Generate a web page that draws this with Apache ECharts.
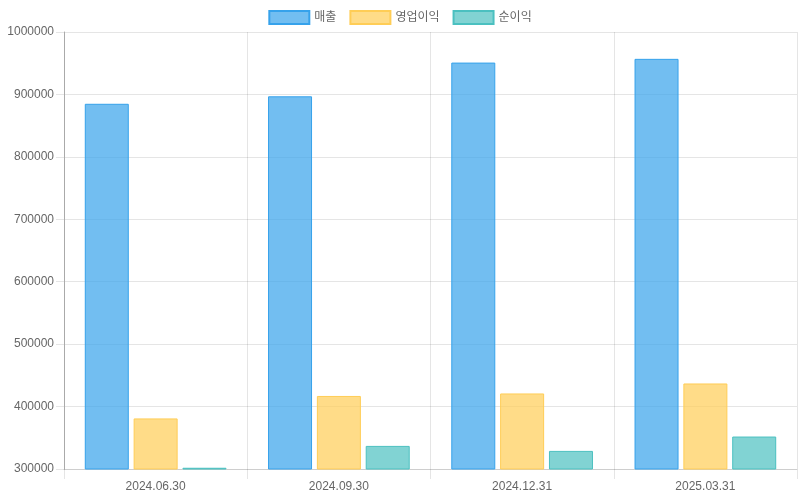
<!DOCTYPE html>
<html>
<head>
<meta charset="utf-8">
<script src="https://cdn.jsdelivr.net/npm/echarts@6/dist/echarts.min.js"></script>
<style>
  html, body { margin: 0; padding: 0; background: #fff; }
  #chart { width: 800px; height: 500px; }
</style>
</head>
<body>
<div id="chart"></div>
<script>
const categories = ['2024.06.30', '2024.09.30', '2024.12.31', '2025.03.31'];
const revenue = [885000, 897000, 951000, 957000];
const operatingProfit = [381000, 417000, 421000, 437000];
const netProfit = [302000, 337000, 329000, 352000];
const seriesNames = ['매출', '영업이익', '순이익'];

(function () {
  let myChart = echarts.init(document.getElementById('chart'));
  const font = '"Liberation Sans", "Noto Sans CJK KR", Arial, sans-serif';
  const gridColor = 'rgba(0,0,0,0.1)';

  function bar(name, data, rgb) {
    return {
      name: name,
      type: 'bar',
      data: data,
      barWidth: 44,
      barGap: '11%',
      itemStyle: {
        color: 'rgba(' + rgb + ',0.7)',
        borderColor: 'rgb(' + rgb + ')',
        borderWidth: 1
      }
    };
  }

  let option = {
    animation: false,
    textStyle: { fontFamily: font },
    legend: {
      top: 5,
      left: 'center',
      icon: 'rect',
      itemWidth: 40,
      itemHeight: 13,
      itemGap: 13,
      textStyle: { color: '#666', fontSize: 12, fontFamily: font },
      data: seriesNames
    },
    grid: { left: 64, right: 3, top: 32, bottom: 31, containLabel: false },
    xAxis: {
      type: 'category',
      data: categories,
      axisLine: { lineStyle: { color: gridColor } },
      axisTick: { show: true, length: 10, lineStyle: { color: gridColor } },
      splitLine: { show: true, lineStyle: { color: gridColor } },
      axisLabel: { color: '#666', fontSize: 12, margin: 12, fontFamily: font }
    },
    yAxis: {
      type: 'value',
      min: 300000,
      max: 1000000,
      interval: 100000,
      axisLine: { show: true, lineStyle: { color: '#aaa' } },
      axisTick: { show: true, length: 8, lineStyle: { color: gridColor } },
      splitLine: { lineStyle: { color: gridColor } },
      axisLabel: {
        color: '#666', fontSize: 12, margin: 10, fontFamily: font,
        formatter: function (v) { return String(v); }
      }
    },
    series: [
      bar(seriesNames[0], revenue, '54,162,235'),
      bar(seriesNames[1], operatingProfit, '255,205,86'),
      bar(seriesNames[2], netProfit, '75,192,192')
    ]
  };

  myChart.setOption(option);
})();
</script>
</body>
</html>
